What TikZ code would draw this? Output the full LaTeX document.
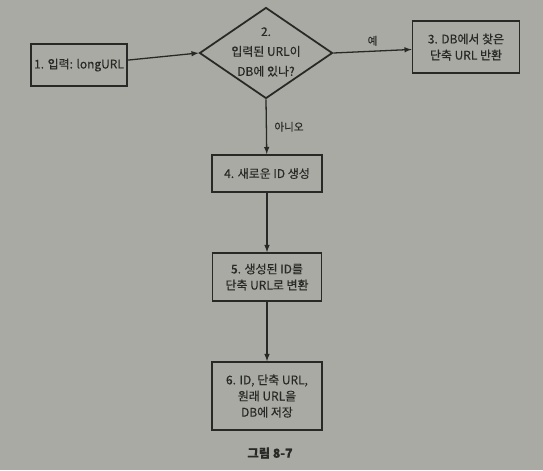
\documentclass[tikz,border=0pt]{standalone}
\usepackage{fontspec}
\setmainfont{Noto Sans CJK KR}[FakeBold=0.4]
\usepackage{tikz}
\usetikzlibrary{shapes.geometric}
\definecolor{paper}{RGB}{168,170,163}
\definecolor{ink}{RGB}{40,40,38}

\begin{document}
\begin{tikzpicture}[x=0.03cm,y=-0.03cm]
\tikzset{box/.style = {shape=rectangle,draw=ink,line width=1.5pt,text=ink,align=center,font=\fontsize{10.2}{13.8}\selectfont,inner sep=2pt}}
\tikzset{decision/.style = {shape=diamond,draw=ink,line width=1.5pt,inner sep=0pt}}
\tikzset{edge/.style = {->,> = latex,draw=ink,line width=1.1pt}}
\tikzset{lbl/.style = {text=ink,font=\fontsize{9}{11}\selectfont}}
\fill[paper] (0,0) rectangle (543,470);
\useasboundingbox (0,0) rectangle (543,470);
\node[box,minimum width=2.88cm,minimum height=1.26cm] (in) at (79,65) {1. 입력: longURL};
\node[decision,minimum width=3.99cm,minimum height=2.73cm] (check) at (266,53) {};
\node[text=ink,align=center,font=\fontsize{10.2}{17}\selectfont] (checktxt) at (266,52) {2.\\입력된 URL이\\DB에 있나?};
\node[box,minimum width=3.21cm,minimum height=1.56cm] (found) at (466,47) {3. DB에서 찾은\\단축 URL 반환};
\node[box,minimum width=3.3cm,minimum height=1.11cm] (newid) at (267,173.5) {4. 새로운 ID 생성};
\node[box,minimum width=3.27cm,minimum height=1.44cm] (conv) at (267,277) {5. 생성된 ID를\\단축 URL로 변환};
\node[box,minimum width=3.3cm,minimum height=2.04cm] (save) at (267,396) {6. ID, 단축 URL,\\원래 URL을\\DB에 저장};
\node[text=ink,font=\fontsize{10.5}{12}\selectfont\bfseries] (cap) at (270,453) {그림 8-7};
\draw[edge] (in) to (check.west);
\draw[edge] (check.east) to node[lbl,above,yshift=1pt] {예} (found);
\draw[edge] (check.south) to node[lbl,right,xshift=3pt] {아니오} (newid);
\draw[edge] (newid) to (conv);
\draw[edge] (conv) to (save);
\end{tikzpicture}
\end{document}
